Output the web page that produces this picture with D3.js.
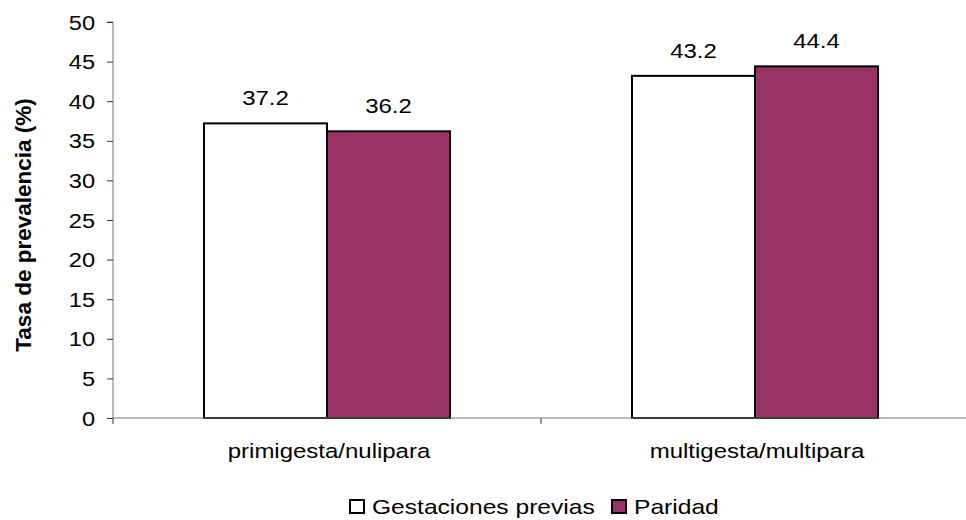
<!DOCTYPE html>
<html><head><meta charset="utf-8">
<script src="https://cdn.jsdelivr.net/npm/d3@7"></script>
<style>body{margin:0;background:#fff;}svg{display:block;font-family:"Liberation Sans",Arial,sans-serif;}</style>
</head><body><svg id="c" width="966" height="520"></svg>
<script>
const categories = ["primigesta/nulipara", "multigesta/multipara"];
const seriesNames = ["Gestaciones previas", "Paridad"];
const gestaciones = [37.2, 43.2];
const paridad = [36.2, 44.4];
const yTicks = [0,5,10,15,20,25,30,35,40,45,50];
const colors = ["#ffffff", "#993366"];

const svg = d3.select("#c");
const x0 = 113, x1 = 969, yTop = 22, yBot = 418;
const FS = 20.5, SX = 1.17;
const y = d3.scaleLinear().domain([0,50]).range([yBot, yTop]);
const xb = d3.scaleBand().domain(categories).range([x0, x1]).paddingInner(0).paddingOuter(0);
const xs = d3.scaleBand().domain(seriesNames).range([0, 246]);
const series = [gestaciones, paridad];

function label(x, yy, txt, anchor, sx, fs) {
  return svg.append("text")
    .attr("transform", `translate(${x},${yy}) scale(${sx},1)`)
    .attr("text-anchor", anchor).attr("font-size", fs || FS).attr("fill", "#000").text(txt);
}

// y axis
const yAxis = svg.append("g").attr("transform", `translate(${x0},0)`)
  .call(d3.axisLeft(y).tickValues(yTicks).tickSize(6));
yAxis.select(".domain").attr("stroke", "#777").attr("d", `M-6,${yTop}H0V${yBot}`);
yAxis.selectAll(".tick line").attr("stroke", "#333");
yAxis.selectAll(".tick text").remove();
yTicks.forEach(t => label(95, y(t) + 7.5, String(t), "end", 1.15));

// bars
categories.forEach((c, i) => {
  const gx = xb(c) + xb.bandwidth()/2 - 123;
  series.forEach((s, j) => {
    svg.append("rect")
      .attr("x", gx + xs(seriesNames[j]))
      .attr("y", y(s[i]))
      .attr("width", xs.bandwidth())
      .attr("height", y(0) - y(s[i]))
      .attr("fill", colors[j]).attr("stroke", "#000").attr("stroke-width", 2);
    label(gx + xs(seriesNames[j]) + xs.bandwidth()/2, y(s[i]) - 18, s[i].toFixed(1), "middle", SX);
  });
});

// x axis
const xAxis = svg.append("g").attr("transform", `translate(0,${yBot})`)
  .call(d3.axisBottom(xb).tickSize(0));
xAxis.select(".domain").attr("stroke", "#777").attr("d", `M${x0},0H${x1}`);
xAxis.selectAll(".tick text").remove();
categories.forEach(c => label(xb(c) + xb.bandwidth()/2 + 2, 458, c, "middle", SX));
[x0, (x0+x1)/2, x1].forEach(t => {
  svg.append("line").attr("x1", t).attr("x2", t).attr("y1", yBot).attr("y2", yBot+6).attr("stroke", "#333");
});

// y title
svg.append("text").attr("transform", `translate(31,${225}) rotate(-90)`)
  .attr("text-anchor", "middle").attr("font-size", 22.5).attr("font-weight", "bold")
  .text("Tasa de prevalencia (%)");

// legend
const legend = [{x: 350, tx: 372, t: seriesNames[0], c: colors[0]}, {x: 612, tx: 634, t: seriesNames[1], c: colors[1]}];
legend.forEach(l => {
  svg.append("rect").attr("x", l.x).attr("y", 500).attr("width", 14).attr("height", 13)
    .attr("fill", l.c).attr("stroke", "#000").attr("stroke-width", 2);
  label(l.tx, 514, l.t, "start", 1.2);
});
</script></body></html>
